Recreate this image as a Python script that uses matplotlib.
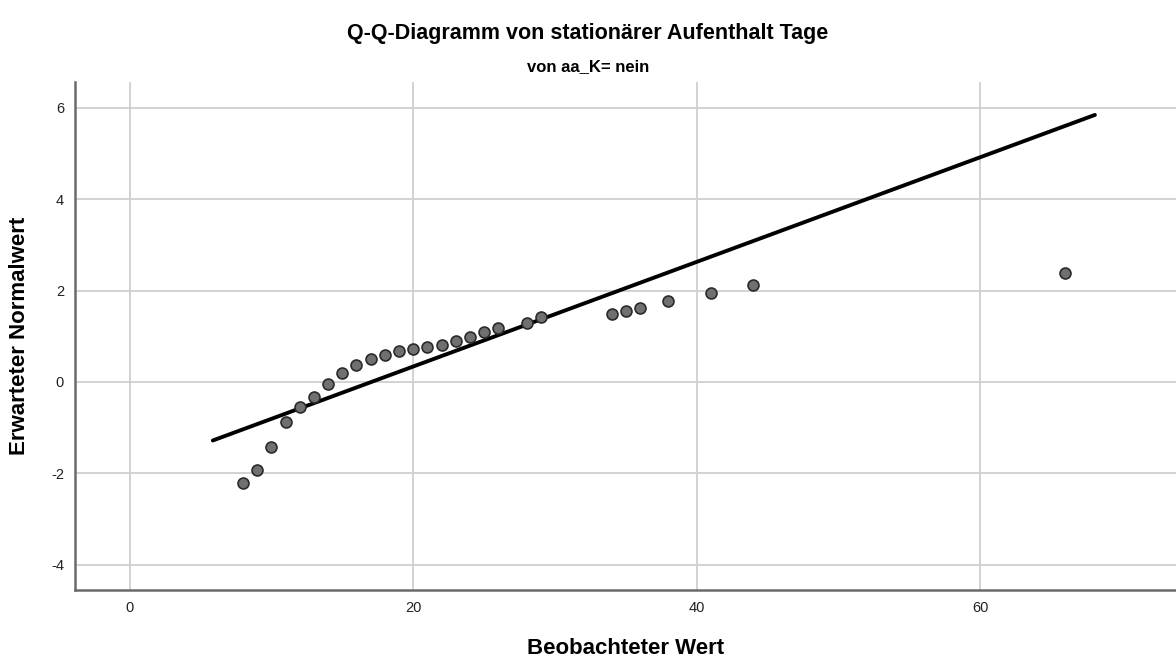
import matplotlib
matplotlib.use("Agg")
import matplotlib.pyplot as plt
import numpy as np

plt.rcParams['font.family'] = ['Liberation Sans', 'DejaVu Sans']
plt.rcParams['axes.unicode_minus'] = False

# observed values (unique) and expected normal values
observed = [8, 9, 10, 11, 12, 13, 14, 15, 16, 17, 18, 19, 20, 21, 22, 23, 24, 25, 26,
            28, 29, 34, 35, 36, 38, 41, 44, 66]
expected = [-2.22, -1.93, -1.42, -0.88, -0.55, -0.33, -0.04, 0.20, 0.36, 0.50, 0.58,
            0.67, 0.72, 0.76, 0.81, 0.90, 0.98, 1.09, 1.17, 1.28, 1.41, 1.48, 1.55,
            1.62, 1.76, 1.94, 2.11, 2.38]
# reference line endpoints
line_x = [5.87, 68.08]
line_y = [-1.28, 5.84]

xticks = [0, 20, 40, 60]
yticks = [-4, -2, 0, 2, 4, 6]

fig = plt.figure(figsize=(11.76, 6.64), dpi=100)
ax = fig.add_axes([75/1176, 74/664, 1 - 75/1176, (590-82)/664])

ax.set_xlim(-3.85, 73.8)
ax.set_ylim(-4.55, 6.56)
ax.set_xticks(xticks)
ax.set_yticks(yticks)
ax.grid(True, color='#cfcfcf', linewidth=1.3)
ax.set_axisbelow(True)
for s in ['top', 'right']:
    ax.spines[s].set_visible(False)
for s in ['left', 'bottom']:
    ax.spines[s].set_color('#6a6a6a')
    ax.spines[s].set_linewidth(1.8)
ax.tick_params(length=0, labelsize=10.5, colors='#222222', pad=8)

ax.plot(line_x, line_y, color='black', linewidth=2.8, zorder=2, solid_capstyle='round')
ax.scatter(observed, expected, s=62, facecolor='#707070', edgecolor='#2a2a2a',
           linewidth=1.2, zorder=3)

ax.set_xlabel('Beobachteter Wert', fontsize=16, fontweight='bold', va='center')
ax.xaxis.set_label_coords(0.5, -(648 - 590) / 508, transform=ax.transAxes)
ax.set_ylabel('Erwarteter Normalwert', fontsize=16, fontweight='bold', va='center')
ax.yaxis.set_label_coords(-(75 - 20) / 1101, 0.5, transform=ax.transAxes)

fig.text(0.5, 1 - 33/664, 'Q-Q-Diagramm von stationärer Aufenthalt Tage',
         ha='center', va='center', fontsize=15.5, fontweight='bold')
fig.text(0.5, 1 - 67/664, 'von aa_K= nein', ha='center', va='center',
         fontsize=12, fontweight='bold')

fig.savefig('out.png', dpi=100)
